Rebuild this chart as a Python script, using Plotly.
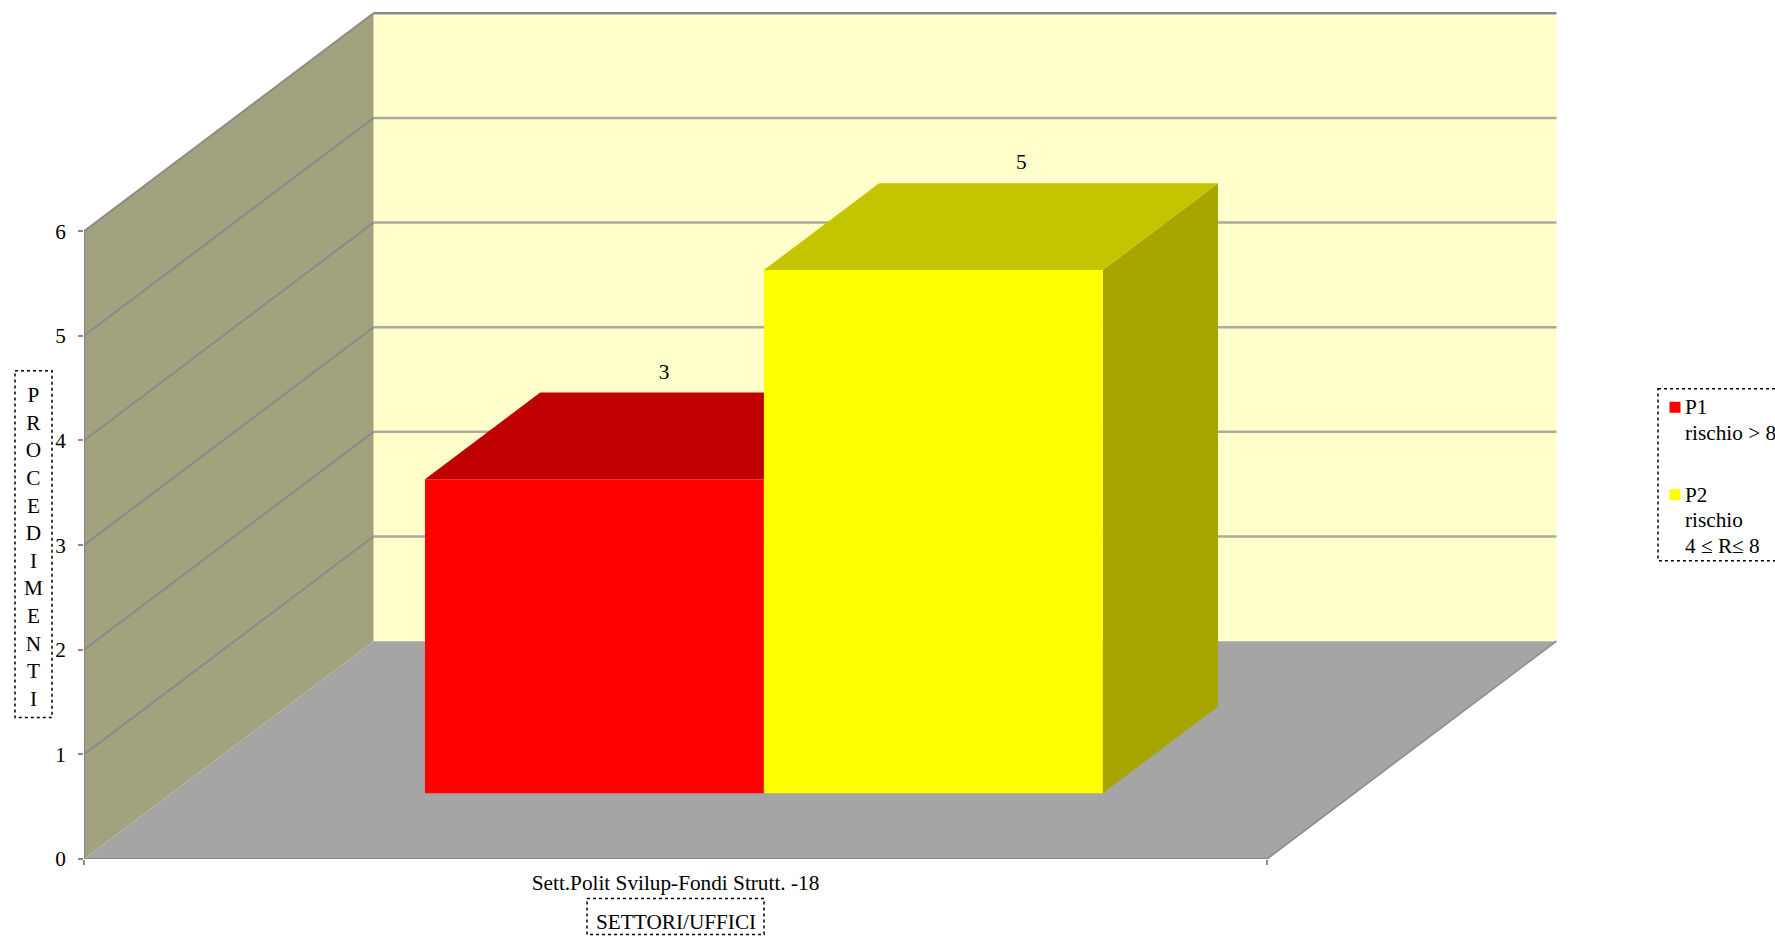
import plotly.graph_objects as go

# ---- data ----
category = "Sett.Polit Svilup-Fondi Strutt. -18"
series_labels = [["P1", "rischio > 8"], ["P2", "rischio", "4 ≤ R≤ 8"]]
series_values = [3, 5]
y_ticks = [0, 1, 2, 3, 4, 5, 6]
y_title = "P<br>R<br>O<br>C<br>E<br>D<br>I<br>M<br>E<br>N<br>T<br>I"
x_title = "SETTORI/UFFICI"

# ---- styles ----
front_colors = ["#FF0000", "#FFFF00"]
top_colors = ["#C00000", "#C4C400"]
side_colors = ["#A60000", "#A6A600"]
BACK, WALL, FLOOR = "#FFFFCC", "#A2A27F", "#A5A5A5"
GRID, EDGE = "#ABAB9E", "#8A8A8A"
FONT = "Liberation Serif"
FS = 21.25

# ---- oblique 3D model: x in 0..1, value on y axis, depth z in 0..1 ----
W, H = 1775, 936
L, R, T, B = 84, 217, 12, 76.5
X_PX, Y_PX = 1183, 104.7            # pixels per axis unit
DX, DY = 289.5 / X_PX, 218 / Y_PX   # shift of the rear plane in axis units
BAR_GAP = 0.2143                    # fraction of category left of the bars
BAR_W = 0.2865
Z0, Z1 = 0.302, 0.70                # bar front and back depth
LABEL_SHIFT = [-0.0600, -0.0445]    # value labels sit left of the bar centre
LABEL_Z = 0.788


def proj(pts):
    return [p[0] + DX * p[2] for p in pts], [p[1] + DY * p[2] for p in pts]


def face(pts, color):
    xs, ys = proj(pts + pts[:1])
    return go.Scatter(x=xs, y=ys, mode="lines", fill="toself", fillcolor=color,
                      line=dict(width=0, color=color), hoverinfo="skip",
                      showlegend=False, cliponaxis=False)


def seg(a, b, color, width):
    xs, ys = proj([a, b])
    return go.Scatter(x=xs, y=ys, mode="lines", line=dict(color=color, width=width),
                      hoverinfo="skip", showlegend=False, cliponaxis=False)


top_y = max(y_ticks)
fig = go.Figure()
# walls and floor
fig.add_trace(face([(0, 0, 1), (1, 0, 1), (1, top_y, 1), (0, top_y, 1)], BACK))
fig.add_trace(face([(0, 0, 0), (0, 0, 1), (0, top_y, 1), (0, top_y, 0)], WALL))
for v in y_ticks[1:]:
    fig.add_trace(seg((0, v, 1), (1, v, 1), GRID if v < top_y else EDGE, 2.5))
    fig.add_trace(seg((0, v, 0), (0, v, 1), EDGE, 2))
fig.add_trace(face([(0, 0, 0), (1, 0, 0), (1, 0, 1), (0, 0, 1)], FLOOR))
fig.add_trace(seg((0, 0, 0), (1, 0, 0), EDGE, 2.5))
fig.add_trace(seg((0, 0, 0), (0, top_y, 0), EDGE, 2.5))
fig.add_trace(seg((1, 0, 0), (1, 0, 1), EDGE, 1.5))

# bars
for i, v in enumerate(series_values):
    x0 = BAR_GAP + i * BAR_W
    x1 = x0 + BAR_W
    fig.add_trace(face([(x1, 0, Z0), (x1, 0, Z1), (x1, v, Z1), (x1, v, Z0)], side_colors[i]))
    fig.add_trace(face([(x0, v, Z0), (x1, v, Z0), (x1, v, Z1), (x0, v, Z1)], top_colors[i]))
    fig.add_trace(face([(x0, 0, Z0), (x1, 0, Z0), (x1, v, Z0), (x0, v, Z0)], front_colors[i]))
    # value label, above the rear edge of the bar top
    lx, ly = proj([((x0 + x1) / 2 + LABEL_SHIFT[i], v, LABEL_Z)])
    fig.add_trace(go.Scatter(x=lx, y=ly, mode="text", text=[str(v)], textposition="middle center",
                             textfont=dict(family=FONT, size=FS, color="black"),
                             hoverinfo="skip", showlegend=False, cliponaxis=False))


def paper(px, py):
    return (px - L) / (W - L - R), 1 - (py - T) / (H - T - B)


def rect(x0, y0, x1, y1, **kw):
    a, b = paper(x0, y0), paper(x1, y1)
    return dict(type="rect", xref="paper", yref="paper", x0=a[0], y0=a[1], x1=b[0], y1=b[1], **kw)


def dotted(x0, y0, x1, y1):
    return rect(x0, y0, x1, y1, line=dict(color="black", width=1.5, dash="dot"), fillcolor="rgba(0,0,0,0)")


def label(text, px, py, anchor="center"):
    ax, ay = paper(px, py)
    return dict(text=text, xref="paper", yref="paper", x=ax, y=ay, showarrow=False,
                xanchor=anchor, yanchor="middle", align=anchor,
                font=dict(family=FONT, size=FS, color="black"))


shapes = [dotted(15, 371, 52, 718), dotted(587, 899, 764, 935), dotted(1658, 389, 1790, 561)]
annotations = [label(y_title, 33, 547.5), label(x_title, 675.5, 922.5)]

# legend: swatch beside the first line of each entry
legend_rows = [[407.5, 433.5], [495, 520, 546]]
for i, rows in enumerate(legend_rows):
    shapes.append(rect(1669.5, rows[0] - 5.5, 1680.5, rows[0] + 5.5,
                       fillcolor=front_colors[i], line=dict(width=0)))
    for text, row in zip(series_labels[i], rows):
        annotations.append(label(text, 1683, row, "left"))

fig.update_layout(
    width=W, height=H, autosize=False, showlegend=False,
    margin=dict(l=L, r=R, t=T, b=B, pad=0, autoexpand=False),
    paper_bgcolor="white", plot_bgcolor="rgba(0,0,0,0)",
    font=dict(family=FONT, size=FS, color="black"),
    xaxis=dict(range=[0, (W - L - R) / X_PX], tickmode="array", tickvals=[0.5], ticktext=[category],
               ticks="", showgrid=False, zeroline=False, showline=False, ticklabelstandoff=9,
               minor=dict(tickmode="array", tickvals=[0, 1], ticks="outside", ticklen=5, tickwidth=1.5, tickcolor=EDGE, showgrid=False),
               tickfont=dict(family=FONT, size=FS, color="black")),
    yaxis=dict(range=[0, (H - T - B) / Y_PX], tickmode="array", tickvals=y_ticks, ticks="outside",
               ticklen=5, tickwidth=1.5, tickcolor=EDGE, showgrid=False, zeroline=False, showline=False,
               ticklabelstandoff=8, tickfont=dict(family=FONT, size=FS, color="black")),
    shapes=shapes,
    annotations=annotations,
)
fig.write_html("out.html", config=dict(displayModeBar=False),
               post_script="document.body.style.margin='0';document.documentElement.style.overflow='hidden';")
